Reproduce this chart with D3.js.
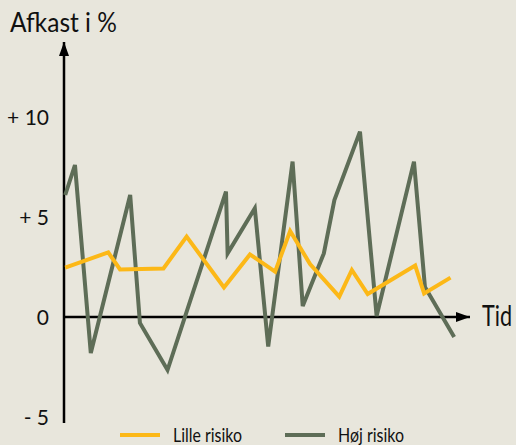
<!DOCTYPE html>
<html>
<head>
<meta charset="utf-8">
<script src="https://cdn.jsdelivr.net/npm/d3@7"></script>
<style>
  html, body { margin: 0; padding: 0; background: #e8e6dc; }
  svg { display: block; }
  text { font-family: "Lato", "Roboto", "Open Sans", sans-serif; fill: #111; }
</style>
</head>
<body>
<div class="chart"></div>
<script>
// Time positions are in arbitrary units (0 = y-axis, 100 = arrow tip)
const lowTime = [0.3, 10.9, 13.8, 24.5, 30.2, 39.4, 45.8, 52.0, 55.7, 60.6, 67.8, 70.9, 74.8, 86.5, 88.7, 95.2]
const lowValues = [2.47, 3.23, 2.38, 2.43, 4.02, 1.48, 3.13, 2.27, 4.3, 2.65, 1.02, 2.35, 1.15, 2.57, 1.18, 1.97]

const highTime = [0.3, 2.7, 6.6, 16.3, 18.7, 25.5, 39.9, 40.3, 47.0, 50.3, 56.3, 58.8, 64.0, 66.6, 72.9, 77.0, 86.2, 88.9, 96.1]
const highValues = [6.1, 7.6, -1.8, 6.1, -0.3, -2.65, 6.27, 3.18, 5.43, -1.48, 7.77, 0.55, 3.18, 5.85, 9.27, 0.05, 7.77, 1.5, -1.0]

const tickValues = [10, 5, 0, -5]
const tickLabels = ['+ 10', '+ 5', '0', '- 5']
const seriesNames = ['Lille risiko', 'Høj risiko']
const seriesColors = ['#fcb817', '#5e6d57']

const width = 516
const height = 445

const svg = d3.select('.chart').append('svg')
  .attr('width', width)
  .attr('height', height)

svg.append('rect')
  .attr('width', width)
  .attr('height', height)
  .attr('fill', '#e8e6dc')

const x = d3.scaleLinear().domain([0, 100]).range([64, 470])
const y = d3.scaleLinear().domain([-5, 10]).range([417, 117])

// squeeze a text horizontally so it spans the given width (condensed look)
function fitText (text, left, baseline, w) {
  const natural = text.node().getComputedTextLength()
  const s = Math.min(1, w / natural)
  text.attr('x', 0).attr('y', 0)
    .attr('transform', `translate(${left},${baseline}) scale(${s},1)`)
}

// Arrow marker
svg.append('defs').append('marker')
  .attr('id', 'arrow')
  .attr('viewBox', '0 0 14 10')
  .attr('refX', 14)
  .attr('refY', 5)
  .attr('markerWidth', 14)
  .attr('markerHeight', 10)
  .attr('markerUnits', 'userSpaceOnUse')
  .attr('orient', 'auto')
  .append('path')
  .attr('d', 'M0,0 L14,5 L0,10 Z')
  .attr('fill', '#000')

// Axes
svg.append('line')
  .attr('x1', x(0)).attr('y1', y(-5.3))
  .attr('x2', x(0)).attr('y2', y(13.75))
  .attr('stroke', '#000')
  .attr('stroke-width', 2.5)
  .attr('marker-end', 'url(#arrow)')

svg.append('line')
  .attr('x1', x(0)).attr('y1', y(0))
  .attr('x2', x(100)).attr('y2', y(0))
  .attr('stroke', '#000')
  .attr('stroke-width', 2.5)
  .attr('marker-end', 'url(#arrow)')

// Tick labels
svg.selectAll('.tick')
  .data(tickValues)
  .enter()
  .append('text')
  .attr('class', 'tick')
  .attr('x', 49)
  .attr('y', d => y(d) + 7.5)
  .attr('text-anchor', 'end')
  .attr('font-size', 21)
  .text((d, i) => tickLabels[i])

// Axis titles
fitText(svg.append('text').attr('font-size', 27).text('Afkast i %'), 10, 32, 107)
fitText(svg.append('text').attr('font-size', 28).text('Tid'), 482, 326, 30)

// Lines
const line = d3.line()
  .x(d => x(d[0]))
  .y(d => y(d[1]))

svg.append('path')
  .datum(highTime.map((t, i) => [t, highValues[i]]))
  .attr('d', line)
  .attr('fill', 'none')
  .attr('stroke', seriesColors[1])
  .attr('stroke-width', 4)

svg.append('path')
  .datum(lowTime.map((t, i) => [t, lowValues[i]]))
  .attr('d', line)
  .attr('fill', 'none')
  .attr('stroke', seriesColors[0])
  .attr('stroke-width', 4)

// Legend
const legendX = [120, 285]
const legendTextW = [69, 66]

seriesNames.forEach((name, i) => {
  svg.append('line')
    .attr('x1', legendX[i]).attr('x2', legendX[i] + 40)
    .attr('y1', 435).attr('y2', 435)
    .attr('stroke', seriesColors[i])
    .attr('stroke-width', 4)
  fitText(svg.append('text').attr('font-size', 19).text(name), legendX[i] + 53, 442, legendTextW[i])
})
</script>
</body>
</html>
